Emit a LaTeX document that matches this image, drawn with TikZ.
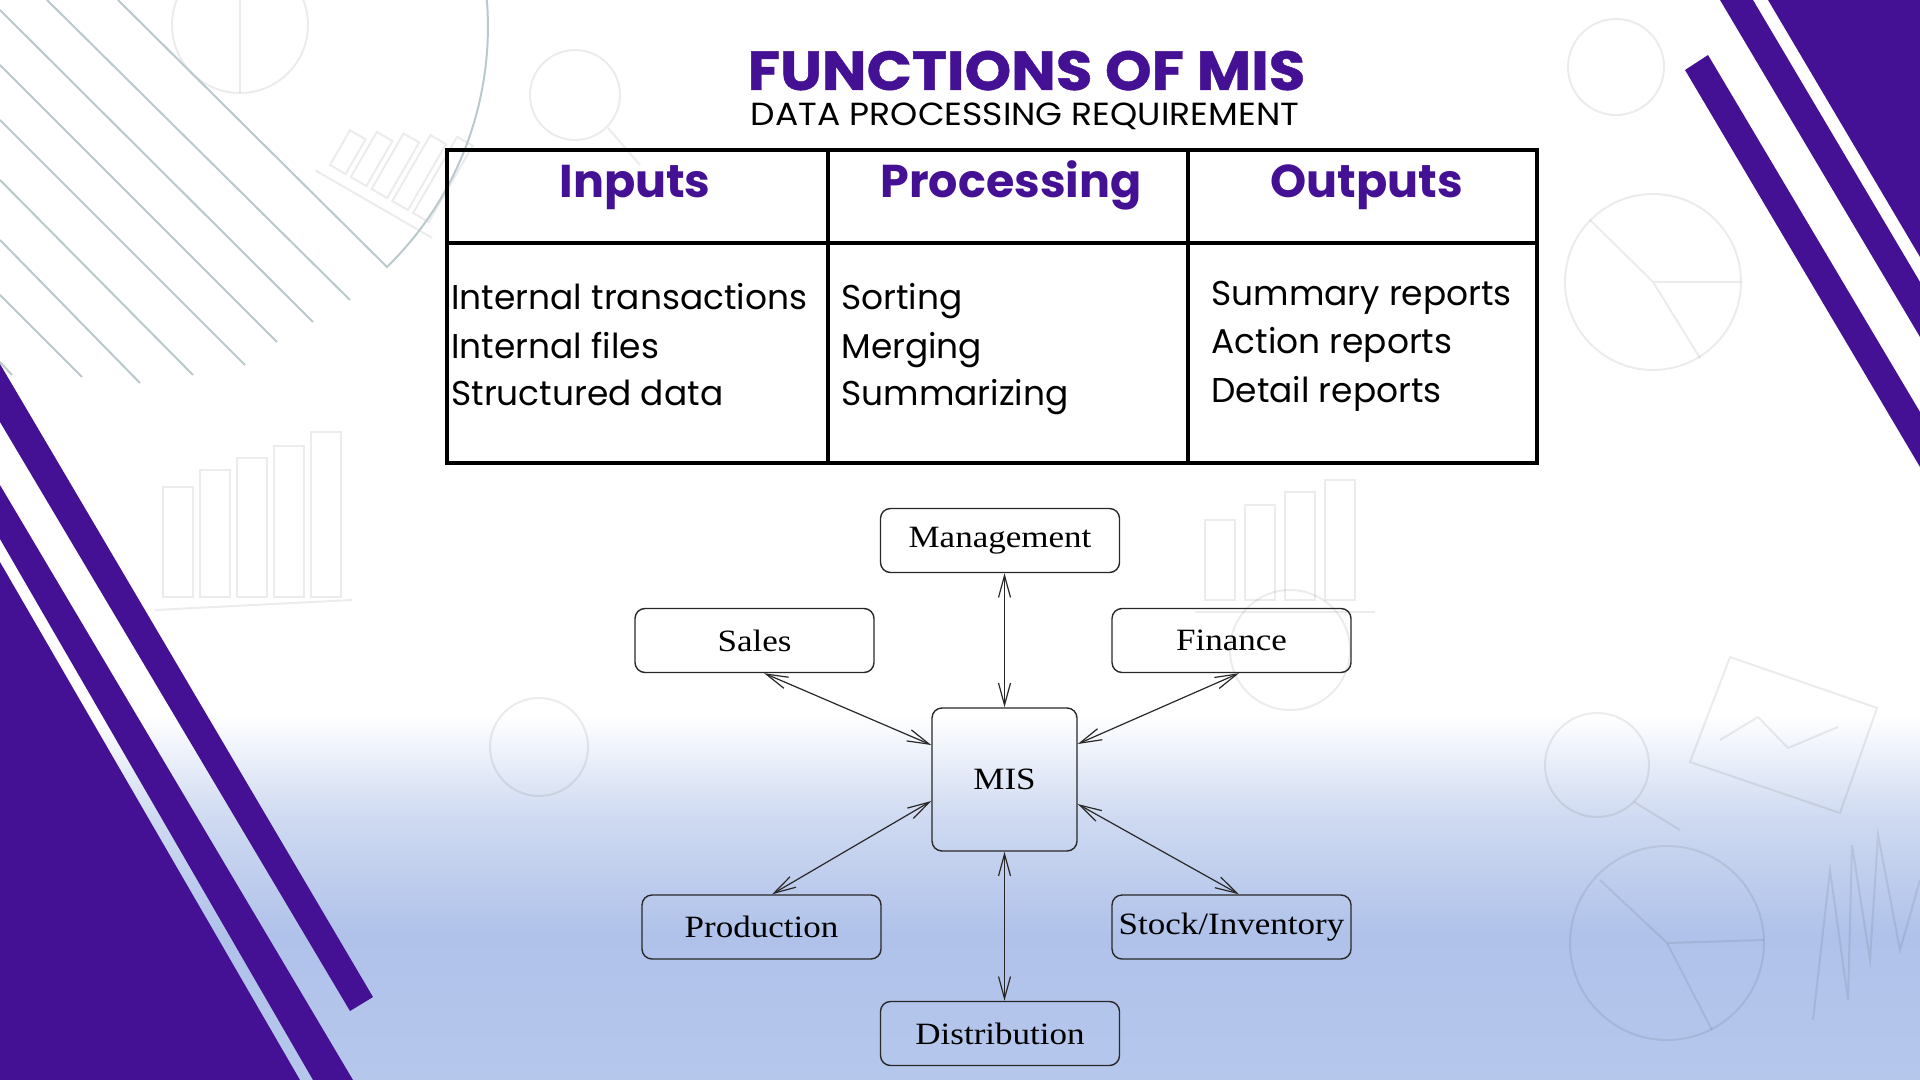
\documentclass[tikz,border=0pt]{standalone}
\usepackage{fontspec}
\setmainfont{Poppins}
\newfontfamily\popfont{Poppins}
\newfontfamily\titlefont[FakeStretch=1.08, BoldFeatures={FakeBold=0.8}]{Poppins}
\newfontfamily\subfont[FakeStretch=1.08]{Poppins}
\newfontfamily\diagfont[FakeStretch=1.13]{Liberation Serif}
\usetikzlibrary{arrows.meta,calc}

\definecolor{mispurple}{RGB}{69,17,148}
\definecolor{linegray}{RGB}{186,201,204}
\definecolor{bgA}{RGB}{230,236,248}
\definecolor{bgB}{RGB}{207,218,241}
\definecolor{bgC}{RGB}{176,194,234}
\definecolor{bgD}{RGB}{182,199,236}
\definecolor{boxline}{RGB}{40,40,40}

\tikzset{
  deco/.style={draw=linegray, line width=1pt},
  doodle/.style={draw=black, draw opacity=0.075, line width=1pt},
  band/.style={fill=mispurple},
  grid line/.style={draw=black, line width=1.6pt},
  title text/.style={inner sep=0, text=mispurple, font=\titlefont\bfseries\fontsize{27.5}{30}\selectfont},
  sub text/.style={inner sep=0, text=black, font=\subfont\fontsize{16}{18}\selectfont},
  head text/.style={inner sep=0, text=mispurple, font=\popfont\bfseries\fontsize{23}{26}\selectfont},
  cell text/.style={inner sep=0, anchor=base west, text=black, font=\popfont\fontsize{17.2}{20}\selectfont},
  unit/.style={draw=boxline, line width=0.7pt, rounded corners=5pt,
    minimum width=119.5pt, minimum height=32pt, inner sep=0,
    font=\diagfont\fontsize{15.5}{18}\selectfont},
  link/.style={draw=boxline, line width=0.6pt,
    {Straight Barb[length=11pt,width=6pt]}-{Straight Barb[length=11pt,width=6pt]}}
}

\begin{document}
\begin{tikzpicture}[x=0.5pt, y=-0.5pt]
  \useasboundingbox (0,0) rectangle (1920,1080);

  % page background: white fading into pale blue
  \fill[white] (0,0) rectangle (1920,1080);
  \shade[top color=white, bottom color=bgA] (0,715) rectangle (1920,768);
  \shade[top color=bgA, bottom color=bgB] (0,767) rectangle (1920,818);
  \shade[top color=bgB, bottom color=bgC] (0,817) rectangle (1920,935);
  \shade[top color=bgC, bottom color=bgD] (0,934) rectangle (1920,1080);

  % faint line-art motifs scattered over the page
  \draw[doodle] (240,25) circle[radius=68];
  \draw[doodle] (240,-43) -- (240,93);
  \begin{scope}[shift={(330,165)}, rotate=-30]
    \foreach \i/\h in {0/40,1/52,2/64,3/76,4/88}
      \draw[doodle] (\i*24,0) rectangle (\i*24+18,-\h);
    \draw[doodle] (-10,12) -- (125,12);
  \end{scope}
  \draw[doodle] (575,95) circle[radius=45];
  \draw[doodle] (608,128) -- (640,165);
  \draw[doodle] (1616,67) circle[radius=48];
  \draw[doodle] (1653,282) circle[radius=88];
  \draw[doodle] (1653,282) -- (1590,220) (1653,282) -- (1741,282) (1653,282) -- (1700,358);
  \foreach \i/\t in {0/487,1/470,2/458,3/446,4/432}
    \draw[doodle] (163+\i*37,597) rectangle (193+\i*37,\t);
  \draw[doodle] (155,610) -- (352,600);
  \foreach \i/\t in {0/520,1/505,2/492,3/480}
    \draw[doodle] (1205+\i*40,600) rectangle (1235+\i*40,\t);
  \draw[doodle] (1195,612) -- (1375,612);
  \draw[doodle] (539,747) circle[radius=49];
  \draw[doodle] (1597,765) circle[radius=52];
  \draw[doodle] (1634,802) -- (1680,830);
  \draw[doodle] (1667,943) circle[radius=97];
  \draw[doodle] (1667,943) -- (1600,880) (1667,943) -- (1764,940) (1667,943) -- (1712,1030);
  \draw[doodle] (1730,657) -- (1877,708) -- (1840,813) -- (1690,762) -- cycle;
  \draw[doodle] (1720,740) -- (1758,717) -- (1788,748) -- (1838,727);
  \draw[doodle] (1813,1020) -- (1830,870) -- (1848,1000) -- (1852,845) -- (1870,960) -- (1878,835) -- (1900,950) -- (1920,880);
  \draw[doodle] (70,790) circle[radius=38];
  \draw[doodle] (1290,650) circle[radius=60];

  % thin diagonal hatching in the upper left corner
  \draw[deco] (118,0) -- (387,267) arc[start angle=45.6, end angle=-8, radius=336];
  \draw[deco] (47,0) -- (350,300);
  \draw[deco] (0,10) -- (313,322);
  \draw[deco] (0,65) -- (277,342);
  \draw[deco] (0,120) -- (245,365);
  \draw[deco] (0,180) -- (193,375);
  \draw[deco] (0,240) -- (140,383);
  \draw[deco] (0,295) -- (82,377);
  \draw[deco] (0,362) -- (12,375);

  % purple bands, lower left
  \fill[band] (0,364) -- (373,997) -- (350,1011) -- (0,422) -- cycle;
  \fill[band] (0,485) -- (353,1080) -- (313,1080) -- (0,539) -- cycle;
  \fill[band] (0,562) -- (300,1080) -- (0,1080) -- cycle;

  % purple bands, upper right
  \fill[band] (1768,0) -- (1920,0) -- (1920,257) -- cycle;
  \fill[band] (1720,0) -- (1753,0) -- (1920,282) -- (1920,337) -- cycle;
  \fill[band] (1708,55) -- (1920,412) -- (1920,467) -- (1685,70) -- cycle;

  % headings
  \node[title text, anchor=base] (title) at (1026.5,90) {FUNCTIONS OF MIS};
  \node[sub text, anchor=base] (subtitle) at (1025,126) {DATA PROCESSING REQUIREMENT};

  % table frame
  \draw[grid line] (447,150) rectangle (1537,463);
  \draw[grid line] (447,243) -- (1537,243);
  \draw[grid line] (828,150) -- (828,463);
  \draw[grid line] (1188,150) -- (1188,463);

  % column heads
  \node[head text, anchor=base] (hin)  at (635,198)  {Inputs};
  \node[head text, anchor=base] (hpro) at (1011,198) {Processing};
  \node[head text, anchor=base] (hout) at (1367,198) {Outputs};

  % column contents
  \node[cell text] (in1) at (451,310) {Internal transactions};
  \node[cell text] (in2) at (451,358) {Internal files};
  \node[cell text] (in3) at (451,405) {Structured data};
  \node[cell text] (pr1) at (841,310) {Sorting};
  \node[cell text] (pr2) at (841,358) {Merging};
  \node[cell text] (pr3) at (841,405) {Summarizing};
  \node[cell text] (ou1) at (1211,306) {Summary reports};
  \node[cell text] (ou2) at (1211,353) {Action reports};
  \node[cell text] (ou3) at (1211,402) {Detail reports};

  % functional units around the MIS
  \node[unit] (mgmt)  at (1000,540.5)  {Management};
  \node[unit] (sales) at (754.5,640.5) {Sales};
  \node[unit] (fin)   at (1231.5,640.5) {Finance};
  \node[unit, minimum width=72.5pt, minimum height=71.5pt] (mis) at (1004.5,779.5) {MIS};
  \node[unit] (prod)  at (761.5,927)   {Production};
  \node[unit] (stock) at (1231.5,927)  {Stock/Inventory};
  \node[unit] (dist)  at (1000,1033.5) {Distribution};

  % two-way information flows
  \draw[link] (mis.north) -- (mis.north |- mgmt.south);
  \draw[link] (mis.south) -- (mis.south |- dist.north);
  \draw[link] ([xshift=4.75pt]sales.south) -- ([yshift=17.25pt]mis.west);
  \draw[link] ([xshift=3.75pt]fin.south) -- ([yshift=17.75pt]mis.east);
  \draw[link] ([xshift=5.25pt]prod.north) -- ([yshift=-10.75pt]mis.west);
  \draw[link] ([xshift=3.75pt]stock.north) -- ([yshift=-12.25pt]mis.east);
\end{tikzpicture}
\end{document}
